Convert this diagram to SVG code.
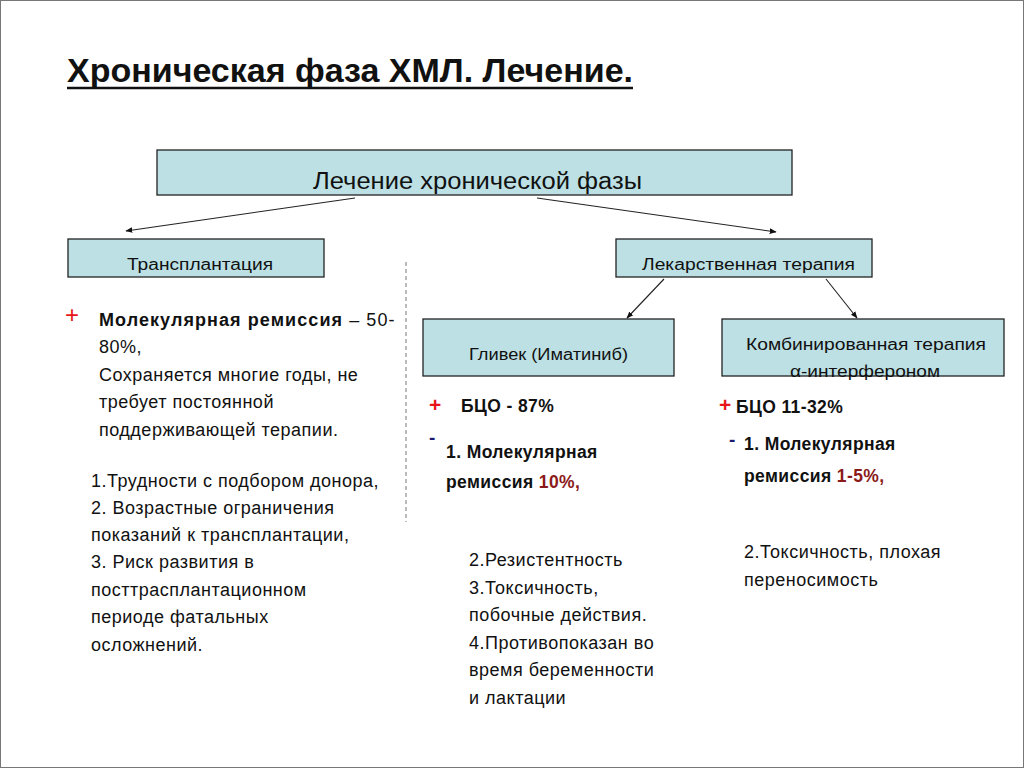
<svg xmlns="http://www.w3.org/2000/svg" width="1024" height="768" viewBox="0 0 1024 768">
<defs>
<style>
.box{fill:#bce0e4;stroke:#222;stroke-width:1.3}
.t{font-family:"Liberation Sans",Arial,sans-serif;fill:#111}
.b{font-weight:bold}
.body{font-size:18px;letter-spacing:0.5px}
.bb{font-size:17.5px;font-weight:bold;letter-spacing:0.4px}
.lbl{font-size:16px}
.red{fill:#e8141a}
.dred{fill:#8b1a1a}
.navy{fill:#1a1a6e}
.conn{stroke:#222;stroke-width:1.1;fill:none;marker-end:url(#ah)}
</style>
<marker id="ah" viewBox="0 0 10 10" refX="9" refY="5" markerWidth="7" markerHeight="7" orient="auto" markerUnits="userSpaceOnUse">
<path d="M0,1 L10,5 L0,9 z" fill="#111"/>
</marker>
</defs>
<rect x="0" y="0" width="1024" height="768" fill="#fff"/>
<rect x="0.5" y="0.5" width="1023" height="767" fill="none" stroke="#777" stroke-width="1"/>

<g id="title">
<text class="t b" x="67" y="82" font-size="33" textLength="566" lengthAdjust="spacingAndGlyphs">Хроническая фаза ХМЛ. Лечение.</text>
<line x1="67" y1="88" x2="633" y2="88" stroke="#111" stroke-width="2.5"/>
</g>

<g id="connectors">
<line class="conn" x1="355" y1="198" x2="126" y2="231"/>
<line class="conn" x1="537" y1="198" x2="776" y2="232"/>
<line class="conn" x1="664" y1="279" x2="627" y2="318"/>
<line class="conn" x1="826" y1="279" x2="857" y2="318"/>
<line x1="406" y1="262" x2="406" y2="522" stroke="#777" stroke-width="1" stroke-dasharray="4,3"/>
</g>

<g id="node-root">
<rect class="box" x="157" y="150" width="635" height="45"/>
<text class="t" x="313" y="189" font-size="23" textLength="329" lengthAdjust="spacingAndGlyphs">Лечение хронической фазы</text>
</g>

<g id="node-transplant">
<rect class="box" x="68" y="239" width="256" height="38"/>
<text class="t lbl" x="127" y="270" textLength="146" lengthAdjust="spacingAndGlyphs">Трансплантация</text>
</g>

<g id="node-drug">
<rect class="box" x="616" y="239" width="256" height="38"/>
<text class="t lbl" x="642" y="270" textLength="213" lengthAdjust="spacingAndGlyphs">Лекарственная терапия</text>
</g>

<g id="node-glivec">
<rect class="box" x="423" y="319" width="251" height="57"/>
<text class="t lbl" x="469" y="360" textLength="159" lengthAdjust="spacingAndGlyphs">Гливек (Иматиниб)</text>
</g>

<g id="node-combo">
<rect class="box" x="722" y="319" width="282" height="57"/>
<text class="t lbl" x="746" y="350" textLength="240" lengthAdjust="spacingAndGlyphs">Комбинированная терапия</text>
<text class="t lbl" x="790" y="377" textLength="150" lengthAdjust="spacingAndGlyphs">α-интерфероном</text>
</g>

<g id="text-transplant">
<text class="t red" x="65" y="323" font-size="24">+</text>
<text class="t body" x="99" y="326" textLength="296" lengthAdjust="spacing"><tspan class="b">Молекулярная ремиссия</tspan> – 50-</text>
<text class="t body" x="99" y="353">80%,</text>
<text class="t body" x="99" y="381">Сохраняется многие годы, не</text>
<text class="t body" x="99" y="408">требует постоянной</text>
<text class="t body" x="99" y="436">поддерживающей терапии.</text>
<text class="t body" x="91" y="487">1.Трудности с подбором донора,</text>
<text class="t body" x="91" y="514">2. Возрастные ограничения</text>
<text class="t body" x="91" y="541">показаний к трансплантации,</text>
<text class="t body" x="91" y="568">3. Риск развития в</text>
<text class="t body" x="91" y="596">посттрасплантационном</text>
<text class="t body" x="91" y="623">периоде фатальных</text>
<text class="t body" x="91" y="651">осложнений.</text>
</g>

<g id="text-glivec">
<text class="t b red" x="429" y="412" font-size="21">+</text>
<text class="t bb" x="461" y="412">БЦО - 87%</text>
<text class="t b navy" x="429" y="444" font-size="19">-</text>
<text class="t bb" x="446" y="458">1. Молекулярная</text>
<text class="t bb" x="446" y="488">ремиссия <tspan class="dred">10%,</tspan></text>
<text class="t body" x="469" y="566">2.Резистентность</text>
<text class="t body" x="469" y="594">3.Токсичность,</text>
<text class="t body" x="469" y="621">побочные действия.</text>
<text class="t body" x="469" y="649">4.Противопоказан во</text>
<text class="t body" x="469" y="676">время беременности</text>
<text class="t body" x="469" y="704">и лактации</text>
</g>

<g id="text-combo">
<text class="t b red" x="719" y="412" font-size="21">+</text>
<text class="t bb" x="736" y="413">БЦО 11-32%</text>
<text class="t b navy" x="729" y="446" font-size="19">-</text>
<text class="t bb" x="744" y="450">1. Молекулярная</text>
<text class="t bb" x="744" y="482">ремиссия <tspan class="dred">1-5%,</tspan></text>
<text class="t body" x="744" y="558">2.Токсичность, плохая</text>
<text class="t body" x="744" y="586">переносимость</text>
</g>
</svg>
